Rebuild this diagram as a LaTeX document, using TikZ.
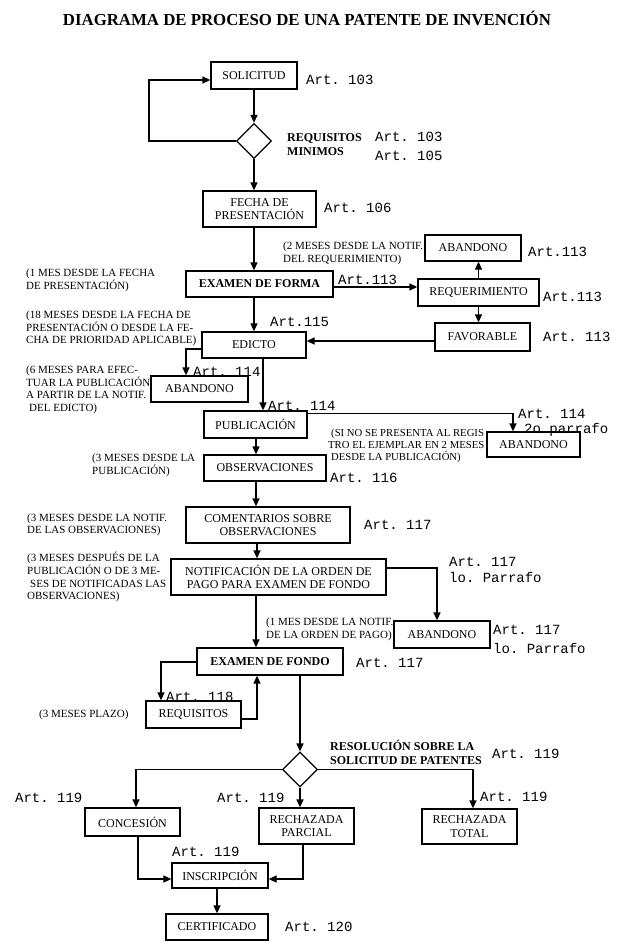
\documentclass[tikz,border=0pt]{standalone}
\usepackage{fontspec}
\setmainfont{Liberation Serif}
\setmonofont{Liberation Mono}
\usetikzlibrary{shapes.geometric,arrows.meta}
\newcommand{\nstrut}{\rule{0pt}{10pt}}
\newcommand{\bstrut}{\rule{0pt}{11pt}}
\tikzset{
  box/.style={draw, line width=1.3pt, inner sep=0pt, align=center, font=\fontsize{12}{13.5}\selectfont},
  bbox/.style={box, font=\fontsize{12}{14}\selectfont\bfseries},
  dia/.style={draw, line width=1.3pt, diamond, inner sep=0pt, minimum width=35pt, minimum height=35pt},
  art/.style={anchor=base west, inner sep=0pt, font=\fontsize{14}{15}\selectfont\ttfamily},
  note/.style={anchor=north west, inner sep=0pt, align=left, font=\fontsize{11}{12.4}\selectfont},
  bnote/.style={anchor=north west, inner sep=0pt, align=left, font=\fontsize{12}{14.5}\selectfont\bfseries},
  conn/.style={line width=1.3pt},
  arr/.style={conn, -{Triangle[length=8pt,width=7pt]}},
}
\begin{document}
\begin{tikzpicture}[x=1pt,y=-1pt]
\fill[white] (0,0) rectangle (622,948);
\useasboundingbox (0,0) rectangle (622,948);

\node[inner sep=0pt, font=\fontsize{16.8}{20}\selectfont\bfseries] (title) at (307,18) {DIAGRAMA DE PROCESO DE UNA PATENTE DE INVENCIÓN};

% boxes
\node[box, minimum width=86pt, minimum height=27pt] (sol) at (254,75.5) {SOLICITUD};
\node[dia] (d1) at (254,141) {};
\node[box, minimum width=113pt, minimum height=36pt] (fecha) at (259.5,209) {FECHA DE\\PRESENTACIÓN};
\node[bbox, minimum width=147pt, minimum height=26pt] (exform) at (259.5,284) {EXAMEN DE FORMA};
\node[box, minimum width=96pt, minimum height=26pt] (aband1) at (473,248) {ABANDONO};
\node[box, minimum width=121pt, minimum height=27pt] (req) at (478.5,292.5) {REQUERIMIENTO};
\node[box, minimum width=95pt, minimum height=28pt] (fav) at (482.5,337) {FAVORABLE};
\node[box, minimum width=104pt, minimum height=26pt] (edicto) at (254,345) {EDICTO};
\node[box, minimum width=97pt, minimum height=26pt] (aband2) at (199.5,389) {ABANDONO};
\node[box, minimum width=103pt, minimum height=27pt] (pub) at (255.5,424.5) {PUBLICACIÓN};
\node[box, minimum width=93pt, minimum height=25pt] (aband3) at (533.5,444.5) {ABANDONO};
\node[box, minimum width=122pt, minimum height=26pt] (obs) at (265,468) {OBSERVACIONES};
\node[box, minimum width=164pt, minimum height=36pt] (com) at (268,525) {COMENTARIOS SOBRE\\OBSERVACIONES};
\node[box, font=\fontsize{12}{12.5}\selectfont, minimum width=215pt, minimum height=36pt] (notif) at (278.5,577) {NOTIFICACIÓN DE LA ORDEN DE\\PAGO PARA EXAMEN DE FONDO};
\node[box, minimum width=96pt, minimum height=27pt] (aband4) at (442,634.5) {ABANDONO};
\node[bbox, minimum width=146pt, minimum height=27pt] (exfondo) at (270,661.5) {EXAMEN DE FONDO};
\node[box, minimum width=95pt, minimum height=27pt] (requis) at (193.5,714.5) {REQUISITOS};
\node[dia] (d2) at (300,769.5) {};
\node[box, minimum width=95pt, minimum height=28pt] (conc) at (132.5,822) {CONCESIÓN};
\node[box, minimum width=95pt, minimum height=36pt] (rparc) at (306.5,826) {RECHAZADA\\PARCIAL};
\node[box, minimum width=95pt, minimum height=35pt] (rtot) at (469.5,826.5) {RECHAZADA\\TOTAL};
\node[box, minimum width=96pt, minimum height=25pt] (insc) at (220,875.5) {INSCRIPCIÓN};
\node[box, minimum width=102pt, minimum height=26pt] (cert) at (217,927) {CERTIFICADO};

% helper coordinates
\coordinate (c1) at (149,80);
\coordinate (c2) at (333,287);
\coordinate (c3) at (0,341);
\coordinate (c4) at (186,349);
\coordinate (c5) at (263,0);
\coordinate (c6) at (513,413.5);
\coordinate (c7) at (256,0);
\coordinate (c8) at (257,0);
\coordinate (c9) at (437,568);
\coordinate (c10) at (161,662);
\coordinate (c11) at (257,719);
\coordinate (c12) at (136,0);
\coordinate (c13) at (473,0);
\coordinate (c14) at (138,879);
\coordinate (c15) at (303,879);
\coordinate (c16) at (217,0);

% connectors
\draw[arr] (sol.south) -- (d1.north);
\draw[arr] (d1.west) -| (c1) -- (c1 -| sol.west);
\draw[arr] (d1.south) -- (d1.south |- fecha.north);
\draw[arr] (fecha.south -| sol.south) -- (exform.north -| sol.south);
\draw[arr] (exform.south -| edicto.north) -- (edicto.north);
\draw[arr] (exform.east |- c2) -- (req.west |- c2);
\draw[arr] (req.north) -- (req.north |- aband1.south);
\draw[arr] (req.south) -- (req.south |- fav.north);
\draw[arr] (fav.west |- c3) -- (edicto.east |- c3);
\draw[arr] (edicto.west |- c4) -| (aband2.north -| c4);
\draw[arr] (edicto.south -| c5) -- (pub.north -| c5);
\draw[arr] (pub.east |- c6) -| (aband3.north -| c6);
\draw[arr] (pub.south -| c7) -- (obs.north -| c7);
\draw[arr] (obs.south -| c7) -- (com.north -| c7);
\draw[arr] (com.south -| c8) -- (notif.north -| c8);
\draw[arr] (notif.east |- c9) -| (aband4.north -| c9);
\draw[arr] (notif.south -| c7) -- (exfondo.north -| c7);
\draw[arr] (exfondo.west |- c10) -| (requis.north -| c10);
\draw[arr] (requis.east |- c11) -| (exfondo.south -| c11);
\draw[arr] (exfondo.south -| d2.north) -- (d2.north);
\draw[arr] (d2.west) -| (conc.north -| c12);
\draw[arr] (d2.south) -- (d2.south |- rparc.north);
\draw[arr] (d2.east) -| (rtot.north -| c13);
\draw[arr] (conc.south -| c14) |- (insc.west |- c14);
\draw[arr] (rparc.south -| c15) |- (insc.east |- c15);
\draw[arr] (insc.south -| c16) -- (cert.north -| c16);

% bold labels
\node[bnote] (reqmin) at (287,130) {\bstrut REQUISITOS\\MINIMOS};
\node[bnote, font=\fontsize{12}{14}\selectfont\bfseries] (resol) at (330,739) {\bstrut RESOLUCIÓN SOBRE LA\\SOLICITUD DE PATENTES};

% notes
\node[note] (n1) at (283,239.6) {\nstrut(2 MESES DESDE LA NOTIF.\\DEL REQUERIMIENTO)};
\node[note] (n2) at (26,266.6) {\nstrut(1 MES DESDE LA FECHA\\DE PRESENTACIÓN)};
\node[note] (n3) at (26,308.6) {\nstrut(18 MESES DESDE LA FECHA DE\\PRESENTACIÓN O DESDE LA FE-\\CHA DE PRIORIDAD APLICABLE)};
\node[note] (n4) at (26,363.6) {\nstrut(6 MESES PARA EFEC-\\TUAR LA PUBLICACIÓN\\A PARTIR DE LA NOTIF.\\\hspace{3pt}DEL EDICTO)};
\node[note, font=\fontsize{10.7}{12}\selectfont] (n5) at (328,426.6) {\nstrut\hspace{3pt}(SI NO SE PRESENTA AL REGIS\\TRO EL EJEMPLAR EN 2 MESES\\\hspace{3pt}DESDE LA PUBLICACIÓN)};
\node[note] (n6) at (92,451.6) {\nstrut(3 MESES DESDE LA\\PUBLICACIÓN)};
\node[note, font=\fontsize{11}{11.5}\selectfont] (n7) at (27,511.6) {\nstrut(3 MESES DESDE LA NOTIF.\\DE LAS OBSERVACIONES)};
\node[note, font=\fontsize{11}{12.7}\selectfont] (n8) at (27,551.6) {\nstrut(3 MESES DESPUÉS DE LA\\PUBLICACIÓN O DE 3 ME-\\\hspace{3pt}SES DE NOTIFICADAS LAS\\OBSERVACIONES)};
\node[note] (n9) at (266,615.6) {\nstrut(1 MES DESDE LA NOTIF.\\DE LA ORDEN DE PAGO)};
\node[note] (n10) at (39,707.6) {\nstrut(3 MESES PLAZO)};

% article labels
\node[art] (a1) at (306,84) {Art. 103};
\node[art] (a2) at (375,141) {Art. 103};
\node[art] (a3) at (375,160) {Art. 105};
\node[art] (a4) at (324,212) {Art. 106};
\node[art] (a5) at (528,256) {Art.113};
\node[art] (a6) at (338,284) {Art.113};
\node[art] (a7) at (543,301) {Art.113};
\node[art] (a8) at (543,341) {Art. 113};
\node[art] (a9) at (270,326) {Art.115};
\node[art] (a10) at (193,376) {Art. 114};
\node[art] (a11) at (268,410) {Art. 114};
\node[art] (a12) at (518,418) {Art. 114};
\node[art] (a13) at (524,433) {2o parrafo};
\node[art] (a14) at (330,482) {Art. 116};
\node[art] (a15) at (364,529) {Art. 117};
\node[art] (a16) at (449,566) {Art. 117};
\node[art] (a17) at (449,582) {lo. Parrafo};
\node[art] (a18) at (493,634) {Art. 117};
\node[art] (a19) at (493,653) {lo. Parrafo};
\node[art] (a20) at (356,667) {Art. 117};
\node[art] (a21) at (166,701) {Art. 118};
\node[art] (a22) at (492,758) {Art. 119};
\node[art] (a23) at (15,802) {Art. 119};
\node[art] (a24) at (217,802) {Art. 119};
\node[art] (a25) at (480,801) {Art. 119};
\node[art] (a26) at (172,856) {Art. 119};
\node[art] (a27) at (285,931) {Art. 120};
\end{tikzpicture}
\end{document}
